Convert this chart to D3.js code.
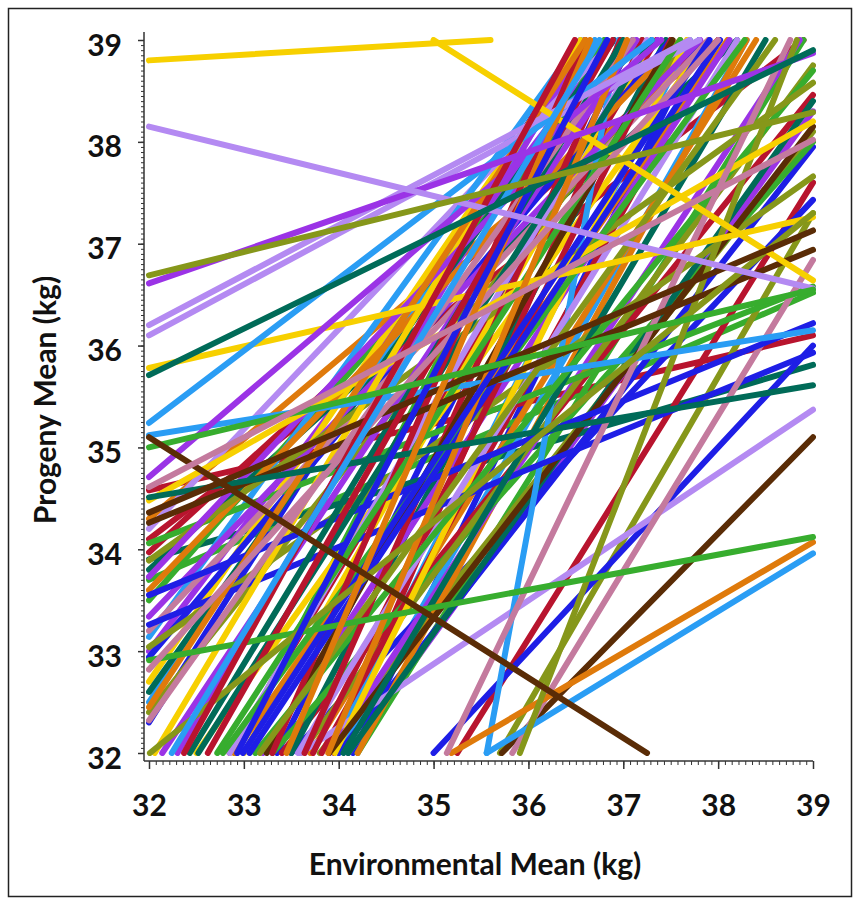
<!DOCTYPE html>
<html>
<head>
<meta charset="utf-8">
<script src="https://cdn.jsdelivr.net/npm/d3@7"></script>
<style>
  body { margin: 0; background: #fff; }
  svg text { font-family: Lato, "Open Sans", sans-serif; font-weight: bold; fill: #111; }
</style>
</head>
<body>
<div id="chart"></div>
<script>
// axis ticks
var envTicks = [32, 33, 34, 35, 36, 37, 38, 39];
var progTicks = [32, 33, 34, 35, 36, 37, 38, 39];

// colours used for the sires
var palette = {
    red: '#b8142e', orange: '#df7a0b', lightBlue: '#2a9df4', blue: '#1e1ee6',
    purple: '#9b33e6', lavender: '#b48af2', teal: '#006b58', green: '#37ad2e',
    olive: '#86971a', yellow: '#f7d000', brown: '#5a2c06', mauve: '#c47a9e'
};

// reaction norms, one per sire: [env start, progeny start, env end, progeny end] (kg)
var red = [
    [32.37, 32, 36.49, 39], [32.62, 32, 36.89, 39], [33.3, 32, 36.6, 39],
    [33.64, 32, 36.97, 39], [33.73, 32, 37.5, 39], [33.82, 32, 38.0, 39],
    [33.95, 32, 37.2, 39], [33.4, 32, 39, 38.46], [35.25, 32, 39, 37.6],
    [32, 34.58, 39, 36.10], [32, 33.97, 37.9, 39], [32, 34.1, 38.9, 39],
    [32.85, 32, 37.35, 39]
];
var orange = [
    [33.45, 32, 36.65, 39], [33.89, 32, 37.04, 39], [32, 32.45, 36.6, 39],
    [35.19, 32, 39, 34.07], [32, 33.6, 37.6, 39], [32.9, 32, 38.1, 39],
    [34.2, 32, 38.3, 39], [33.7, 32, 38.4, 39], [32, 34.3, 38.0, 39]
];
var lightBlue = [
    [32.24, 32, 36.75, 39], [32, 35.24, 37.3, 39], [32, 35.12, 39, 36.15],
    [35.56, 32, 39, 33.96], [35.56, 32, 36.95, 39], [32, 33.14, 36.55, 39],
    [33.9, 32, 37.7, 39], [32, 32.5, 36.7, 39], [34.0, 32, 38.3, 39]
];
var blue = [
    [32.93, 32, 36.83, 39], [32.99, 32, 37.91, 39], [33.06, 32, 38.02, 39],
    [32, 33.55, 39, 36.22], [32, 33.26, 39, 35.93], [32, 32.94, 37.5, 39],
    [35.0, 32, 39, 36.0], [34.0, 32, 39, 37.95], [33.5, 32, 39, 37.43],
    [33.35, 32, 37.1, 39], [34.15, 32, 37.8, 39], [32, 32.3, 36.55, 39]
];
var purple = [
    [32, 36.61, 39, 38.87], [32, 34.71, 37.4, 39], [32.14, 32, 37.14, 39],
    [32, 33.73, 37.36, 39], [32, 33.34, 37.81, 39], [33.2, 32, 38.12, 39],
    [33.9, 32, 38.86, 39], [32.3, 32, 36.6, 39], [32, 33.0, 36.9, 39],
    [34.1, 32, 39, 38.3]
];
var lavender = [
    [32, 38.15, 39, 36.56], [32, 36.20, 37.7, 39], [32, 36.10, 37.8, 39],
    [32.85, 32, 37.25, 39], [33.57, 32, 38.2, 39], [33.6, 32, 39, 35.37],
    [32, 34.2, 36.9, 39]
];
var teal = [
    [32, 35.71, 39, 38.9], [32, 34.51, 39, 35.61], [32.43, 32, 37.0, 39],
    [32.52, 32, 37.3, 39], [34.05, 32, 38.5, 39], [34.10, 32, 39, 38.4],
    [32, 32.60, 36.9, 39], [33.5, 32, 37.45, 39], [32, 33.8, 38.2, 39],
    [32, 33.9, 39, 35.81]
];
var green = [
    [32, 35.0, 39, 36.55], [32, 32.91, 39, 34.12], [32.72, 32, 37.6, 39],
    [32.78, 32, 38.28, 39], [33.12, 32, 39, 38.7], [32, 34.06, 39, 36.58],
    [33.3, 32, 39, 38.0], [32, 33.5, 37.2, 39], [32.9, 32, 36.8, 39],
    [34.2, 32, 38.9, 39], [32, 33.7, 39, 36.52]
];
var olive = [
    [32, 36.69, 39, 38.29], [32.01, 32, 39, 37.3], [33.17, 32, 38.6, 39],
    [35.91, 32, 38.83, 39], [32, 33.89, 39, 38.58], [32, 33.04, 39, 37.66],
    [33.6, 32, 39, 38.75], [32, 32.4, 37.7, 39], [33.8, 32, 39, 38.1],
    [35.7, 32, 39, 37.3]
];
var yellow = [
    [32, 38.8, 35.6, 39], [35.0, 39, 39, 36.64], [32, 35.78, 39, 37.26],
    [32, 34.48, 39, 38.2], [32.06, 32, 36.55, 39], [33.96, 32, 37.67, 39],
    [32.5, 32, 37.9, 39], [32, 32.7, 36.6, 39], [33.0, 32, 37.3, 39]
];
var brown = [
    [32, 35.1, 37.25, 32], [32, 34.36, 39, 37.13], [32, 34.26, 39, 36.94],
    [33.24, 32, 37.52, 39], [35.72, 32, 39, 35.10], [33.9, 32, 39, 38.15]
];
var mauve = [
    [32, 34.61, 39, 38.02], [32, 32.82, 38.0, 39], [32, 32.32, 37.1, 39],
    [35.14, 32, 38.76, 39], [35.83, 32, 39, 36.84], [32, 33.2, 37.9, 39]
];

var groups = [
    ['red', red], ['orange', orange], ['lightBlue', lightBlue], ['blue', blue],
    ['purple', purple], ['lavender', lavender], ['teal', teal], ['green', green],
    ['olive', olive], ['yellow', yellow], ['brown', brown], ['mauve', mauve]
];

var width = 856, height = 903;

var svg = d3.select('#chart').append('svg')
    .attr('width', width)
    .attr('height', height);

// outer frame
svg.append('rect')
    .attr('x', 8.5).attr('y', 8.5)
    .attr('width', 843).attr('height', 888)
    .attr('fill', 'none')
    .attr('stroke', '#222')
    .attr('stroke-width', 1.5);

var x = d3.scaleLinear().domain([32, 39]).range([149, 813]);
var y = d3.scaleLinear().domain([32, 39]).range([753, 40]);

svg.append('clipPath').attr('id', 'plotclip')
    .append('rect')
    .attr('x', x(32) - 3).attr('y', y(39) - 3)
    .attr('width', x(39) - x(32) + 6).attr('height', y(32) - y(39) + 6);

// interleave colours so no single colour sits on top of everything;
// first line of each group is drawn last
var lines = [];
var maxLen = d3.max(groups, function (g) { return g[1].length; });
for (var i = maxLen - 1; i >= 0; i--) {
    groups.forEach(function (g) {
        if (g[1][i]) lines.push({ color: palette[g[0]], p: g[1][i] });
    });
}

var line = d3.line()
    .x(function (d) { return x(d[0]); })
    .y(function (d) { return y(d[1]); });

svg.append('g')
    .attr('clip-path', 'url(#plotclip)')
    .selectAll('path')
    .data(lines)
    .enter().append('path')
    .attr('d', function (d) { return line([[d.p[0], d.p[1]], [d.p[2], d.p[3]]]); })
    .attr('fill', 'none')
    .attr('stroke', function (d) { return d.color; })
    .attr('stroke-width', 6)
    .attr('stroke-linecap', 'round');

// axes sit a little outside the data area, like the original
var xAxisY = y(32) + 8;
var yAxisX = x(32) - 5;

var xMinor = d3.range(32, 39.001, 1 / 14);
var yMinor = d3.range(32, 39.001, 0.05);

svg.append('g')
    .attr('transform', 'translate(0,' + xAxisY + ')')
    .call(d3.axisBottom(x).tickValues(xMinor).tickSize(4).tickFormat('').tickSizeOuter(0))
    .call(function (g) { g.select('.domain').remove(); g.selectAll('line').attr('stroke', '#333'); });

svg.append('g')
    .attr('transform', 'translate(' + yAxisX + ',0)')
    .call(d3.axisLeft(y).tickValues(yMinor).tickSize(3).tickFormat('').tickSizeOuter(0))
    .call(function (g) { g.select('.domain').remove(); g.selectAll('line').attr('stroke', '#333'); });

var gx = svg.append('g')
    .attr('transform', 'translate(0,' + xAxisY + ')')
    .call(d3.axisBottom(x).tickValues(envTicks).tickFormat(d3.format('d'))
        .tickSize(8).tickPadding(26).tickSizeOuter(0));
gx.select('.domain').attr('d', 'M' + yAxisX + ',0H' + x(39)).attr('stroke', '#333').attr('stroke-width', 1.5);
gx.selectAll('.tick line').attr('stroke', '#333').attr('stroke-width', 1.5);
gx.selectAll('text').attr('font-size', 30).attr('fill', '#111');

var gy = svg.append('g')
    .attr('transform', 'translate(' + yAxisX + ',0)')
    .call(d3.axisLeft(y).tickValues(progTicks).tickFormat(d3.format('d'))
        .tickSize(6).tickPadding(16).tickSizeOuter(0));
gy.select('.domain').attr('d', 'M0,' + (y(39) - 8) + 'V' + xAxisY).attr('stroke', '#333').attr('stroke-width', 1.5);
gy.selectAll('.tick line').attr('stroke', '#333').attr('stroke-width', 1.5);
gy.selectAll('text').attr('font-size', 30).attr('dy', '0.5em').attr('fill', '#111');

// axis titles
svg.append('text')
    .attr('x', 475).attr('y', 875)
    .attr('text-anchor', 'middle')
    .attr('font-size', 30)
    .text('Environmental Mean (kg)');

svg.append('text')
    .attr('transform', 'translate(56,400) rotate(-90)')
    .attr('text-anchor', 'middle')
    .attr('font-size', 30)
    .text('Progeny Mean (kg)');
</script>
</body>
</html>
